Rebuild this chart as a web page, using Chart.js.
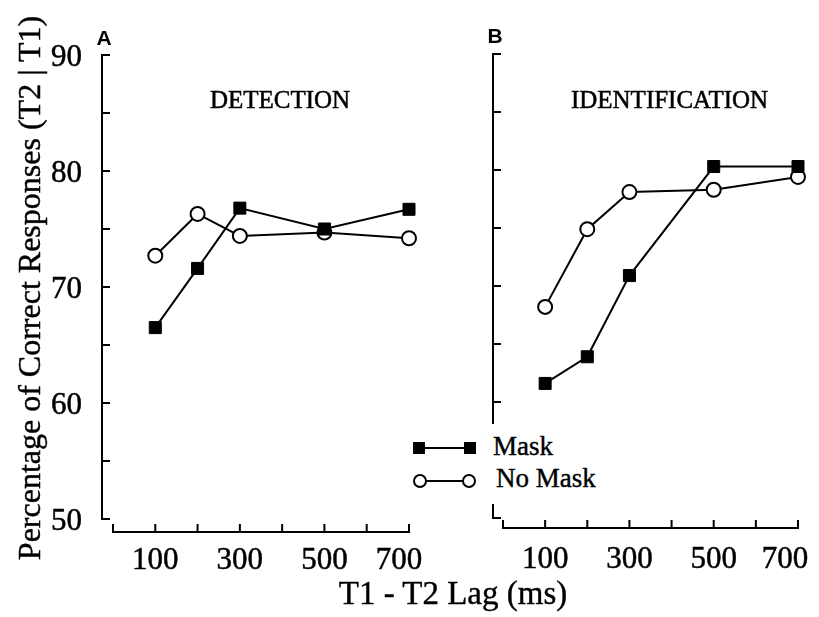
<!DOCTYPE html>
<html>
<head>
<meta charset="utf-8">
<script src="https://cdn.jsdelivr.net/npm/chart.js@4.4.0/dist/chart.umd.min.js"></script>
<style>
  html, body { margin: 0; padding: 0; background: #fff; }
  #page { position: relative; width: 819px; height: 617px; overflow: hidden; background: #fff;
          font-family: 'Liberation Serif', 'Times New Roman', serif; color: #000; }
  canvas { position: absolute; top: 0; }
  #chartA { left: 0; }
  #chartB { left: 460px; }
  #ytitle { position: absolute; left: -271px; top: 272px; width: 600px; height: 32px; line-height: 32px;
            font-size: 32px; text-align: center; white-space: nowrap; transform: rotate(-90deg);
            -webkit-text-stroke: 0.4px #000; }
  #xtitle { position: absolute; left: 253px; top: 577px; width: 400px; height: 33px; line-height: 33px;
            font-size: 33px; text-align: center; white-space: nowrap; -webkit-text-stroke: 0.4px #000; }
  #legend { position: absolute; left: 405px; top: 424px; width: 200px; height: 80px; background: #fff; }
  #legend .lbl { position: absolute; font-size: 27px; line-height: 27px; white-space: nowrap;
                 -webkit-text-stroke: 0.4px #000; }
  #legend .sq { position: absolute; width: 12px; height: 12px; background: #000; }
  #legend .ci { position: absolute; width: 10px; height: 10px; border: 2px solid #000; border-radius: 50%; background: #fff; }
  #legend .ln { position: absolute; height: 2px; background: #000; }
</style>
</head>
<body>
<div id="page">
  <canvas id="chartA" width="460" height="617"></canvas>
  <canvas id="chartB" width="359" height="617"></canvas>
  <div id="ytitle"></div>
  <div id="xtitle"></div>
  <div id="legend">
    <div class="ln" style="left:20px;top:23px;width:42px"></div>
    <div class="sq" style="left:8px;top:18px"></div>
    <div class="sq" style="left:59px;top:18px"></div>
    <div class="lbl" id="lbl-mask" style="left:88px;top:9px"></div>
    <div class="ln" style="left:20px;top:56px;width:40px"></div>
    <div class="ci" style="left:8px;top:50px"></div>
    <div class="ci" style="left:57px;top:50px"></div>
    <div class="lbl" id="lbl-nomask" style="left:91px;top:41px"></div>
  </div>
</div>
<script>
// T1-T2 lag (ms)
const LAGS = [100, 200, 300, 500, 700];

// Panel A: detection
const detMask = [66.5, 71.6, 76.8, 75.0, 76.7];
const detNoMask = [72.7, 76.3, 74.4, 74.7, 74.2];

// Panel B: identification
const idMask = [61.6, 63.9, 70.9, 80.3, 80.3];
const idNoMask = [68.2, 74.9, 78.1, 78.3, 79.4];

const Y_TICKS = [50, 55, 60, 65, 70, 75, 80, 85, 90];
const Y_LABELS = [50, 60, 70, 80, 90];
const X_TICKS = [0, 100, 200, 300, 400, 500, 600, 700];
const X_LABELS = [100, 300, 500, 700];

const SERIES = ['Mask', 'No Mask'];
const Y_TITLE = 'Percentage of Correct Responses (T2 | T1)';
const X_TITLE = 'T1 - T2 Lag (ms)';

document.getElementById('ytitle').textContent = Y_TITLE;
document.getElementById('xtitle').textContent = X_TITLE;
document.getElementById('lbl-mask').textContent = SERIES[0];
document.getElementById('lbl-nomask').textContent = SERIES[1];

// heavier text, closer to the scanned print
function inkText(ctx, str, x, y) {
  ctx.fillText(str, x, y);
  ctx.strokeText(str, x, y);
}

// Axes drawn detached from the plot area (old journal style), ticks pointing inward
const offsetAxes = {
  id: 'offsetAxes',
  afterDraw(chart, args, opts) {
    const { ctx, scales: { x, y } } = chart;
    const tick = 8;
    const axX = x.left - opts.gapX;
    const axY = y.bottom + opts.gapY;
    ctx.save();
    ctx.strokeStyle = '#000';
    ctx.fillStyle = '#000';
    ctx.lineWidth = 2;
    ctx.beginPath();
    ctx.moveTo(axX, y.getPixelForValue(Y_TICKS[Y_TICKS.length - 1]) - 1);
    ctx.lineTo(axX, y.getPixelForValue(Y_TICKS[0]) + 1);
    for (const v of Y_TICKS) {
      const py = y.getPixelForValue(v);
      ctx.moveTo(axX, py);
      ctx.lineTo(axX + tick, py);
    }
    ctx.moveTo(x.getPixelForValue(X_TICKS[0]) - 1, axY);
    ctx.lineTo(x.getPixelForValue(X_TICKS[X_TICKS.length - 1]) + 1, axY);
    for (const v of X_TICKS) {
      const px = x.getPixelForValue(v);
      ctx.moveTo(px, axY);
      ctx.lineTo(px, axY - tick);
    }
    ctx.stroke();

    // tick labels
    ctx.lineWidth = 0.5;
    ctx.font = "31px 'Liberation Serif', 'Times New Roman', serif";
    ctx.textBaseline = 'alphabetic';
    if (opts.yLabels) {
      ctx.textAlign = 'right';
      for (const v of Y_LABELS) {
        inkText(ctx, String(v), axX - 20, y.getPixelForValue(v) + 11);
      }
    }
    ctx.textAlign = 'center';
    X_LABELS.forEach((v, i) => {
      const shift = i === X_LABELS.length - 1 ? opts.lastShift : 0;
      inkText(ctx, String(v), x.getPixelForValue(v) + shift, y.bottom + opts.labelDY);
    });

    // panel letter and title
    ctx.font = "bold 21px 'Liberation Sans', Arial, sans-serif";
    ctx.fillText(opts.letter, axX + 2, opts.letterY);
    ctx.font = "25px 'Liberation Serif', 'Times New Roman', serif";
    inkText(ctx, opts.title, (x.left + x.right) / 2 + 19, opts.titleY);
    ctx.restore();
  }
};

function makePanel(id, mask, noMask, padding, panelOpts) {
  return new Chart(document.getElementById(id), {
    type: 'line',
    data: {
      datasets: [
        {
          label: SERIES[0],
          data: LAGS.map((lag, i) => ({ x: lag, y: mask[i] })),
          borderColor: '#000',
          borderWidth: 2,
          pointStyle: 'rect',
          pointRadius: 8.5,
          pointBorderWidth: 1,
          pointBackgroundColor: '#000',
          pointBorderColor: '#000',
          tension: 0,
          clip: false,
        },
        {
          label: SERIES[1],
          data: LAGS.map((lag, i) => ({ x: lag, y: noMask[i] })),
          borderColor: '#000',
          borderWidth: 2,
          pointStyle: 'circle',
          pointRadius: 7,
          pointBorderWidth: 2,
          pointBackgroundColor: '#fff',
          pointBorderColor: '#000',
          tension: 0,
          clip: false,
        },
      ],
    },
    options: {
      responsive: false,
      animation: false,
      events: [],
      layout: { padding },
      scales: {
        x: { type: 'linear', min: X_TICKS[0], max: X_TICKS[X_TICKS.length - 1], display: false },
        y: { type: 'linear', min: Y_TICKS[0], max: Y_TICKS[Y_TICKS.length - 1], display: false },
      },
      plugins: {
        legend: { display: false },
        tooltip: { enabled: false },
        offsetAxes: panelOpts,
      },
    },
    plugins: [offsetAxes],
  });
}

makePanel('chartA', detMask, detNoMask,
  { left: 113, right: 51, top: 55, bottom: 98 },
  { gapX: 11, gapY: 13, yLabels: true, labelDY: 50, lastShift: -10,
    letter: 'A', letterY: 45, title: 'DETECTION', titleY: 108 });

makePanel('chartB', idMask, idNoMask,
  { left: 43, right: 21, top: 54, bottom: 99 },
  { gapX: 10, gapY: 10, yLabels: false, labelDY: 50, lastShift: -13,
    letter: 'B', letterY: 43, title: 'IDENTIFICATION', titleY: 108 });
</script>
</body>
</html>
